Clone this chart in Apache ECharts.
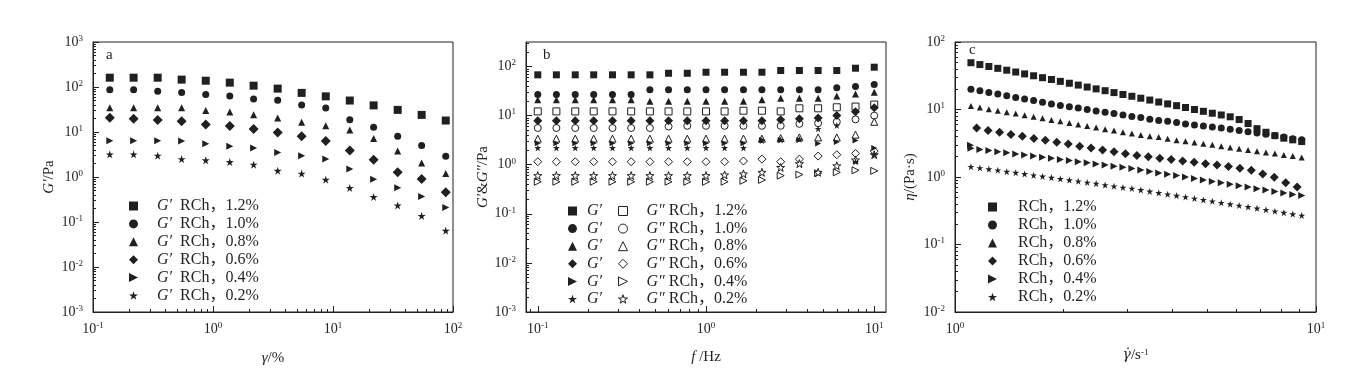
<!DOCTYPE html>
<html><head><meta charset="utf-8">
<script src="https://cdn.jsdelivr.net/npm/echarts@6/dist/echarts.min.js"></script>
<style>html,body{margin:0;padding:0;background:#fff}#c{width:1356px;height:371px}</style>
</head><body><div id="c"></div>
<script>
// ---------- data ----------
const concLabels = ['1.2%', '1.0%', '0.8%', '0.6%', '0.4%', '0.2%'];

// panel a: strain sweep, G'
const xA = [0.138, 0.218, 0.346, 0.548, 0.87, 1.38, 2.18, 3.46, 5.48, 8.7, 13.8, 21.8, 34.6, 54.8, 87];
const a12 = [161, 161, 161, 146, 138, 125, 107, 92, 74, 62, 50, 39, 31, 24, 18];
const a10 = [87, 87, 80, 75, 68, 63, 54, 51, 40, 34, 18.8, 12.7, 8.0, 5.0, 2.9];
const a08 = [34.8, 34.8, 34.8, 34.8, 30, 27.8, 24.3, 20.5, 16.4, 13.8, 11.1, 7.2, 3.8, 2.05, 1.19];
const a06 = [20.8, 19.8, 18.5, 17.3, 14.6, 13.6, 11.7, 9.8, 8.0, 6.3, 3.9, 2.43, 1.27, 0.90, 0.46];
const a04 = [6.4, 6.4, 6.4, 6.3, 5.5, 4.8, 4.4, 3.5, 2.98, 2.5, 1.5, 0.89, 0.58, 0.37, 0.21];
const a02 = [3.19, 3.19, 2.98, 2.5, 2.35, 2.15, 1.88, 1.38, 1.19, 0.87, 0.57, 0.36, 0.234, 0.136, 0.064];

// panel b: frequency sweep, G' (filled) and G'' (open)
const xB = [0.1, 0.129, 0.167, 0.215, 0.278, 0.359, 0.464, 0.599, 0.774, 1, 1.29, 1.67, 2.15, 2.78, 3.59, 4.64, 5.99, 7.74, 10];
const bGp12 = [67.8, 67.8, 67.8, 67.8, 67.8, 67.8, 67.8, 73, 73, 76.6, 76.6, 76.6, 76.6, 83, 83, 83, 83, 92.5, 97];
const bGp10 = [27, 27, 27, 27, 27, 27, 33.5, 33.5, 33.5, 33.5, 33.5, 33.5, 33.5, 33.5, 33.5, 33.5, 36.8, 39.2, 43];
const bGp08 = [21, 21, 21, 21, 21, 21, 19.6, 19.6, 19.6, 19.6, 19.6, 19.6, 21, 22.5, 22.5, 22.5, 25, 27.5, 30];
const bGp06 = [7.9, 7.9, 7.9, 7.9, 7.9, 7.9, 7.9, 7.9, 7.9, 7.9, 7.9, 7.9, 7.9, 8.2, 8.6, 9, 10.1, 12, 14.5];
const bGp04 = [2.75, 2.75, 2.75, 2.75, 2.75, 2.75, 2.75, 2.75, 2.75, 2.75, 2.75, 2.75, 3.2, 3.2, 3.2, 2.7, 2.9, 3.1, 2.2];
const bGp02 = [2.2, 2.2, 2.2, 2.2, 2.2, 2.2, 2.2, 2.2, 2.2, 2.2, 2.2, 2.2, 3.1, 3.2, 3.3, 5.4, 6.3, 1.15, 1.6];
const bGpp12 = [12.2, 12.2, 12.2, 12.2, 12.2, 12.2, 12.2, 12.2, 12.2, 12.2, 12.2, 12.6, 12.6, 12.2, 14.1, 14.1, 14.8, 15.3, 16.8];
const bGpp10 = [5.6, 5.6, 5.6, 5.6, 5.6, 5.6, 5.6, 6.0, 6.2, 6.2, 6.2, 6.2, 6.2, 6.2, 6.8, 7.0, 7.5, 8.4, 10];
const bGpp08 = [3.4, 3.4, 3.4, 3.4, 3.4, 3.4, 3.4, 3.4, 3.4, 3.4, 3.4, 3.4, 3.4, 3.5, 3.6, 3.6, 3.6, 4.1, 7.5];
const bGpp06 = [1.15, 1.15, 1.15, 1.15, 1.15, 1.15, 1.15, 1.15, 1.15, 1.15, 1.15, 1.19, 1.3, 1.15, 1.3, 1.5, 1.6, 1.7, 1.9];
const bGpp04 = [0.45, 0.45, 0.45, 0.45, 0.45, 0.45, 0.45, 0.45, 0.45, 0.45, 0.45, 0.47, 0.49, 0.6, 0.63, 0.67, 0.7, 0.77, 0.75];
const bGpp02 = [0.6, 0.6, 0.6, 0.6, 0.6, 0.6, 0.6, 0.6, 0.6, 0.6, 0.62, 0.65, 0.7, 0.88, 1.05, 0.7, 0.95, 1.25, 1.6];

// panel c: viscosity vs shear rate
const xC = [1.107, 1.172, 1.241, 1.314, 1.391, 1.473, 1.559, 1.651, 1.748, 1.850, 1.958, 2.074, 2.195, 2.324, 2.460, 2.605, 2.757, 2.919, 3.090, 3.271, 3.464, 3.667, 3.882, 4.110, 4.350, 4.606, 4.876, 5.162, 5.465, 5.785, 6.125, 6.484, 6.864, 7.267, 7.693, 8.145, 8.623, 9.129];
const xC6 = [1.148, 1.235, 1.329, 1.429, 1.537, 1.654, 1.779, 1.914, 2.059, 2.215, 2.382, 2.563, 2.757, 2.966, 3.190, 3.432, 3.692, 3.971, 4.272, 4.596, 4.943, 5.318, 5.720, 6.154, 6.620, 7.121, 7.661, 8.241, 8.865];
const xC4 = [1.104, 1.107, 1.172, 1.241, 1.314, 1.391, 1.473, 1.559, 1.651, 1.748, 1.850, 1.958, 2.074, 2.195, 2.324, 2.460, 2.605, 2.757, 2.919, 3.090, 3.271, 3.464, 3.667, 3.882, 4.110, 4.350, 4.606, 4.876, 5.162, 5.465, 5.785, 6.125, 6.484, 6.864, 7.267, 7.693, 8.145, 8.623, 9.129];
const c12 = [49.3, 46.3, 43.4, 40.7, 38.2, 35.9, 33.7, 31.6, 29.6, 27.8, 26.1, 24.5, 23.0, 21.5, 20.2, 19.0, 17.8, 16.7, 15.7, 14.7, 13.8, 12.9, 12.1, 11.4, 10.7, 10.0, 9.4, 8.8, 8.3, 7.8, 7.1, 6.2, 5.2, 4.6, 4.1, 3.76, 3.55, 3.35];
const c10 = [19.9, 18.9, 17.9, 16.9, 16.0, 15.1, 14.3, 13.6, 12.8, 12.1, 11.5, 11.0, 10.5, 10.0, 9.5, 9.1, 8.7, 8.3, 7.9, 7.6, 7.2, 6.9, 6.7, 6.4, 6.1, 5.9, 5.7, 5.5, 5.3, 5.1, 4.9, 4.7, 4.5, 4.3, 4.1, 3.9, 3.7, 3.55];
const c08 = [11.3, 10.7, 10.1, 9.6, 9.1, 8.7, 8.2, 7.8, 7.4, 7.0, 6.7, 6.3, 6.0, 5.7, 5.4, 5.1, 4.9, 4.6, 4.4, 4.2, 4.0, 3.9, 3.7, 3.5, 3.4, 3.25, 3.1, 3.0, 2.86, 2.74, 2.63, 2.52, 2.41, 2.31, 2.22, 2.12, 2.04, 1.95];
const c06 = [5.3, 4.9, 4.6, 4.27, 4.0, 3.73, 3.5, 3.27, 3.09, 2.85, 2.69, 2.51, 2.37, 2.21, 2.08, 2.0, 1.90, 1.82, 1.73, 1.66, 1.57, 1.51, 1.43, 1.35, 1.26, 1.11, 0.99, 0.82, 0.71];
const c04 = [2.95, 2.66, 2.56, 2.47, 2.37, 2.29, 2.20, 2.11, 2.04, 1.96, 1.89, 1.82, 1.75, 1.68, 1.62, 1.56, 1.50, 1.44, 1.39, 1.34, 1.27, 1.21, 1.15, 1.10, 1.05, 0.996, 0.95, 0.90, 0.86, 0.82, 0.78, 0.74, 0.71, 0.67, 0.64, 0.61, 0.58, 0.55, 0.53];
const c02 = [1.42, 1.36, 1.31, 1.26, 1.20, 1.16, 1.11, 1.06, 1.02, 0.98, 0.94, 0.90, 0.865, 0.83, 0.80, 0.76, 0.73, 0.70, 0.675, 0.643, 0.612, 0.583, 0.556, 0.53, 0.505, 0.481, 0.458, 0.437, 0.416, 0.396, 0.378, 0.36, 0.343, 0.327, 0.311, 0.296, 0.282, 0.269];

// ---------- style ----------
const INK = '#231f20';
const FONT = '"Liberation Serif", "Noto Sans CJK SC", "Times New Roman", serif';
const STAR = 'path://M5,0L6.18,3.51L9.89,3.51L6.88,5.68L8.03,9.19L5,7.02L1.97,9.19L3.12,5.68L0.11,3.51L3.82,3.51Z';
const RTRI = 'path://M0,0L10,5L0,10Z';
const SYMS = ['rect', 'circle', 'triangle', 'diamond', RTRI, STAR];

function majors(lo, hi) { const o = []; for (let n = Math.ceil(lo - 1e-9); n <= Math.floor(hi + 1e-9); n++) o.push(n); return o; }
function minors(lo, hi) {
  const o = [];
  for (let n = Math.floor(lo) - 1; n <= Math.ceil(hi); n++)
    for (let m = 2; m <= 9; m++) { const v = n + Math.log10(m); if (v > lo + 1e-6 && v < hi - 1e-6) o.push(v); }
  return o;
}
const labelRich = {
  b: { fontFamily: FONT, fontSize: 14, lineHeight: 16, color: INK },
  s: { fontFamily: FONT, fontSize: 9, lineHeight: 9, verticalAlign: 'top', color: INK }
};
const nameRich = {
  n: { fontFamily: FONT, fontSize: 15, color: INK },
  i: { fontFamily: FONT, fontSize: 15, fontStyle: 'italic', color: INK },
  g: { fontFamily: '"DejaVu Serif", serif', fontSize: 14, fontStyle: 'italic', color: INK },
  s: { fontFamily: FONT, fontSize: 9, verticalAlign: 'top', lineHeight: 10, color: INK }
};

function axes(g, dim, lo, hi, name, nameGap, margin) {
  const pos = dim === 'x' ? 'bottom' : 'left';
  return [
    { gridIndex: g, type: 'log', logBase: 10, min: Math.pow(10, lo), max: Math.pow(10, hi), show: false, position: pos },
    { gridIndex: g, type: 'value', min: lo, max: hi, position: pos, offset: 0,
      name: name, nameLocation: 'middle', nameGap: nameGap,
      nameTextStyle: { fontFamily: FONT, fontSize: 15, color: INK, rich: nameRich },
      axisLine: { show: true, onZero: false, lineStyle: { color: INK, width: 1 } },
      axisTick: { show: true, inside: true, length: 6, customValues: majors(lo, hi), lineStyle: { color: INK, width: 1 } },
      axisLabel: { show: true, margin: margin, customValues: majors(lo, hi), hideOverlap: false,
        formatter: v => '{b|10}{s|' + Math.round(v) + '}', rich: labelRich },
      splitLine: { show: false } },
    { gridIndex: g, type: 'value', min: lo, max: hi, position: pos, offset: 0,
      axisLine: { show: false, onZero: false },
      axisTick: { show: true, inside: true, length: 3, customValues: minors(lo, hi), lineStyle: { color: INK, width: 1 } },
      axisLabel: { show: false }, splitLine: { show: false } }
  ];
}

const grids = [
  { left: 93, top: 42, width: 360, height: 270 },
  { left: 526, top: 42, width: 360, height: 270 },
  { left: 955, top: 42, width: 361, height: 270 }
].map(g => Object.assign(g, { show: true, borderColor: INK, borderWidth: 1, containLabel: false, outerBoundsMode: 'none' }));

const xAxes = [].concat(
  axes(0, 'x', -1, 2, '{i|γ}{n|/%}', 39, 9),
  axes(1, 'x', -1.07, 1.07, '{i|f} {n|/Hz}', 38, 9),
  axes(2, 'x', 0, 1, '{g|γ̇}{n|/s}{s|-1}', 36, 9)
);
const yAxes = [].concat(
  axes(0, 'y', -3, 3, '{i|G′}{n|/Pa}', 36, 10),
  axes(1, 'y', -3, 2.5, '{i|G′}{n|&}{i|G″}{n|/Pa}', 35, 10),
  axes(2, 'y', -2, 2, '{i|η}{n|/(Pa·s)}', 37, 10)
);

function pts(xs, ys) { return xs.map((x, i) => [x, ys[i]]); }
const sizesA = [8, 7, 7, 10, 7, 8];
const sizesB = [7, 7, 7, 9, 6, 7];
const sizesBo = [7, 7, 7, 8, 7, 8];
const sizesC = [7, 7, 6, 9, 7, 7];

function sc(name, g, data, k, size, open) {
  return {
    type: 'scatter', name: name, xAxisIndex: 3 * g, yAxisIndex: 3 * g, data: data,
    symbol: SYMS[k], symbolSize: size,
    itemStyle: open ? { color: '#ffffff', borderColor: INK, borderWidth: 1, opacity: 1 } : { color: INK, borderWidth: 0, opacity: 1 },
    emphasis: { disabled: true }, silent: true, animation: false
  };
}

const aY = [a12, a10, a08, a06, a04, a02];
const bYp = [bGp12, bGp10, bGp08, bGp06, bGp04, bGp02];
const bYpp = [bGpp12, bGpp10, bGpp08, bGpp06, bGpp04, bGpp02];
const cSets = [[xC, c12], [xC, c10], [xC, c08], [xC6, c06], [xC4, c04], [xC, c02]];

const series = [];
const namesA = [], namesBp = [], namesBpp = [], namesC = [];
concLabels.forEach((c, k) => {
  namesA.push('a' + c); series.push(sc('a' + c, 0, pts(xA, aY[k]), k, sizesA[k], false));
});
concLabels.forEach((c, k) => {
  namesBpp.push('b″' + c); series.push(sc('b″' + c, 1, pts(xB, bYpp[k]), k, sizesBo[k], true));
});
concLabels.forEach((c, k) => {
  namesBp.push('b′' + c); series.push(sc('b′' + c, 1, pts(xB, bYp[k]), k, sizesB[k], false));
});
concLabels.forEach((c, k) => {
  namesC.push('c' + c); series.push(sc('c' + c, 2, pts(cSets[k][0], cSets[k][1]), k, sizesC[k], false));
});

const legRich = {
  sp: { width: 14 }, sp2: { width: 5 }, sp3: { width: 16 },
  i: { fontFamily: FONT, fontSize: 16, fontStyle: 'italic', color: INK, lineHeight: 12 },
  t: { fontFamily: FONT, fontSize: 16, color: INK, lineHeight: 12 }
};
function leg(left, top, names, fmt, gap, open) {
  const l = {
    left: left, top: top, orient: 'vertical', padding: 0, itemWidth: 9, itemHeight: 9, itemGap: gap,
    selectedMode: false, data: names, formatter: fmt,
    textStyle: { fontFamily: FONT, fontSize: 16, color: INK, lineHeight: 12, rich: legRich }
  };
  if (open) l.itemStyle = { borderWidth: 1, borderColor: INK, color: '#ffffff' };
  return l;
}
const pctOf = n => n.replace(/^[abc][′″]?/, '');

const option = {
  animation: false,
  backgroundColor: '#ffffff',
  title: [
    { text: 'a', left: 101, top: 43, textStyle: { fontFamily: FONT, fontSize: 15, fontWeight: 'normal', color: INK } },
    { text: 'b', left: 538, top: 43, textStyle: { fontFamily: FONT, fontSize: 15, fontWeight: 'normal', color: INK } },
    { text: 'c', left: 964, top: 38, textStyle: { fontFamily: FONT, fontSize: 15, fontWeight: 'normal', color: INK } }
  ],
  grid: grids,
  xAxis: xAxes,
  yAxis: yAxes,
  legend: [
    leg(129, 198, namesA, n => '{sp|}{i|G′}{t|  RCh，' + pctOf(n) + '}', 1.9, false),
    leg(568, 203, namesBp, n => '{sp2|}{i|G′}', 1.6, false),
    leg(618, 203, namesBpp, n => '{sp|}{i|G″}{t| RCh，' + pctOf(n) + '}', 1.6, true),
    leg(988, 199, namesC, n => '{sp3|}{t|RCh，' + pctOf(n) + '}', 2.0, false)
  ],
  series: series
};
const chart = echarts.init(document.getElementById('c'), null, { renderer: 'canvas' });
chart.setOption(option);
</script></body></html>
